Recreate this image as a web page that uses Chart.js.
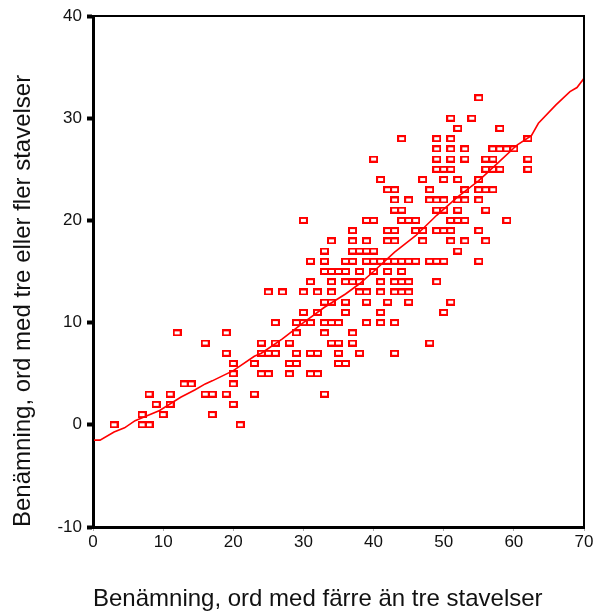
<!DOCTYPE html>
<html>
<head>
<meta charset="utf-8">
<script src="https://cdn.jsdelivr.net/npm/chart.js@4.4.1/dist/chart.umd.min.js"></script>
<style>
  html, body { margin: 0; padding: 0; background: #fff; }
  #wrap { width: 595px; height: 614px; }
</style>
</head>
<body>
<div id="wrap"><canvas id="scatter"></canvas></div>
<script>
// score levels on the y axis, and the x scores of the cases at each level
const levelY = [32, 30, 29, 28, 27, 26, 25, 24, 23, 22, 21, 20, 19, 18, 17, 16,
                15, 14, 13, 12, 11, 10, 9, 8, 7, 6, 5, 4, 3, 2, 1, 0];
const levelX = [
  [55],
  [51, 54],
  [52, 58],
  [44, 49, 51, 62],
  [49, 51, 53, 57, 58, 59, 60],
  [40, 49, 51, 53, 56, 57, 62],
  [49, 50, 51, 56, 57, 58, 62],
  [41, 47, 50, 52, 55],
  [42, 43, 48, 53, 55, 56, 57],
  [43, 45, 48, 49, 50, 52, 53, 55],
  [43, 44, 49, 50, 52, 56],
  [30, 39, 40, 44, 45, 46, 51, 52, 53, 59],
  [37, 42, 43, 46, 47, 49, 50, 51, 55],
  [34, 37, 39, 42, 43, 47, 51, 53, 56],
  [33, 37, 38, 39, 40, 52],
  [31, 33, 36, 37, 39, 40, 41, 42, 43, 44, 45, 46, 48, 49, 50, 55],
  [33, 34, 35, 36, 38, 40, 42, 44],
  [31, 34, 36, 37, 38, 41, 43, 44, 45, 49],
  [25, 27, 30, 32, 34, 38, 39, 41, 43, 44, 45],
  [33, 34, 36, 39, 42, 45, 51],
  [30, 32, 36, 41, 50],
  [26, 29, 30, 31, 33, 34, 35, 39, 41, 43],
  [12, 19, 29, 33, 37],
  [16, 24, 26, 28, 34, 35, 37, 48],
  [19, 24, 25, 26, 29, 31, 32, 35, 38, 43],
  [20, 23, 28, 29, 35, 36],
  [20, 24, 25, 28, 31, 32],
  [13, 14, 20],
  [8, 11, 16, 17, 19, 23, 33],
  [9, 11, 20],
  [7, 10, 17],
  [3, 7, 8, 21]
];

// smoothed fit line
const fitX = [0, 1, 3, 4.5, 6, 9.5, 12.5, 14.5, 16, 17, 20, 23, 24, 27, 30, 33, 36, 38,
              40, 43, 46, 49, 52, 55, 58, 60.5, 62.5, 63.5, 66, 68, 69, 70];
const fitY = [-1.5, -1.5, -0.7, -0.3, 0.4, 1.4, 2.7, 3.4, 4.0, 4.3, 5.3, 6.7, 7.0, 8.4, 10.0, 11.5, 12.8, 13.8,
              15.0, 16.9, 18.5, 20.5, 22.3, 23.9, 25.8, 27.4, 28.3, 29.5, 31.3, 32.6, 33.0, 33.9];

const xTicks = [0, 10, 20, 30, 40, 50, 60, 70];
const yTicks = [-10, 0, 10, 20, 30, 40];

const xTitle = 'Benämning, ord med färre än tre stavelser';
const yTitle = 'Benämning, ord med tre eller fler stavelser';

const points = [];
levelY.forEach((y, i) => levelX[i].forEach(x => points.push({x: x, y: y})));
const fitLine = fitX.map((x, i) => ({x: x, y: fitY[i]}));

// small open red rectangle marker
const marker = document.createElement('canvas');
marker.width = 9;
marker.height = 7;
const mctx = marker.getContext('2d');
mctx.strokeStyle = '#ff0000';
mctx.lineWidth = 2;
mctx.strokeRect(1, 1, 7, 5);

const frame = {
  id: 'frame',
  afterDraw(chart) {
    const {ctx, chartArea: a} = chart;
    ctx.save();
    ctx.strokeStyle = '#000';
    ctx.lineWidth = 2;
    ctx.strokeRect(a.left, a.top, a.right - a.left, a.bottom - a.top);
    ctx.restore();
  }
};

const font = "'Liberation Sans', Arial, sans-serif";

new Chart(document.getElementById('scatter'), {
  type: 'scatter',
  data: {
    datasets: [
      {
        data: points,
        pointStyle: marker,
        pointRadius: 4,
        pointHoverRadius: 4
      },
      {
        type: 'line',
        data: fitLine,
        borderColor: '#ff0000',
        borderWidth: 1.6,
        pointRadius: 0,
        tension: 0,
        fill: false
      }
    ]
  },
  options: {
    responsive: true,
    maintainAspectRatio: false,
    animation: false,
    events: [],
    layout: { padding: { top: 16, right: 11, left: 0, bottom: 0 } },
    plugins: {
      legend: { display: false },
      tooltip: { enabled: false }
    },
    scales: {
      x: {
        type: 'linear',
        min: 0,
        max: 70,
        afterFit(scale) { scale.height = 87; },
        afterBuildTicks(scale) { scale.ticks = xTicks.map(v => ({value: v})); },
        grid: { display: true, drawOnChartArea: false, drawTicks: true, tickLength: 4, tickWidth: 1, tickColor: '#aaa' },
        border: { display: true, color: '#000', width: 3 },
        ticks: { color: '#111', padding: 1, maxRotation: 0, font: { family: font, size: 17 } },
        title: {
          display: true,
          text: xTitle,
          align: 'start',
          color: '#111',
          padding: { top: 0, bottom: 0 },
          font: { family: font, size: 24 }
        }
      },
      y: {
        type: 'linear',
        min: -10,
        max: 40,
        afterFit(scale) { scale.width = 93; },
        afterBuildTicks(scale) { scale.ticks = yTicks.map(v => ({value: v})); },
        grid: { display: true, drawOnChartArea: false, drawTicks: true, tickLength: 6, tickWidth: 4, tickColor: '#000' },
        border: { display: true, color: '#000', width: 3 },
        ticks: { color: '#111', padding: 5, font: { family: font, size: 17 } },
        title: {
          display: true,
          text: yTitle,
          align: 'start',
          color: '#111',
          padding: { top: 9, bottom: 0 },
          font: { family: font, size: 24 }
        }
      }
    }
  },
  plugins: [frame]
});
</script>
</body>
</html>
